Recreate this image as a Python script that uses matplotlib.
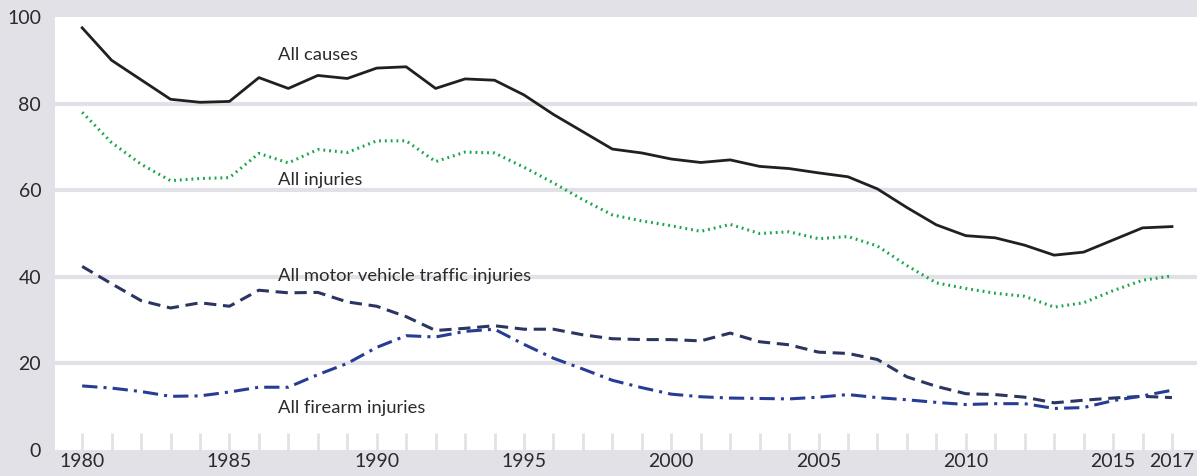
import matplotlib
matplotlib.use("Agg")
import matplotlib.pyplot as plt
from matplotlib.ticker import FixedLocator

years = list(range(1980, 2018))

all_causes = [97.5, 90.0, 85.5, 81.0, 80.3, 80.5, 86.0, 83.5, 86.5, 85.8,
              88.2, 88.5, 83.5, 85.7, 85.4, 82.0, 77.5, 73.5, 69.5, 68.6,
              67.2, 66.4, 67.0, 65.5, 65.0, 64.0, 63.1, 60.3, 56.0, 52.0,
              49.5, 49.0, 47.3, 45.0, 45.7, 48.5, 51.3, 51.6]

all_injuries = [78.0, 71.0, 66.0, 62.2, 62.7, 62.9, 68.5, 66.3, 69.4, 68.7,
                71.4, 71.4, 66.6, 68.8, 68.6, 65.3, 61.7, 57.8, 54.3, 52.9,
                51.8, 50.5, 52.1, 50.0, 50.4, 48.8, 49.3, 47.1, 42.6, 38.6,
                37.3, 36.2, 35.5, 33.0, 34.0, 36.8, 39.2, 40.2]

motor_vehicle = [42.4, 38.4, 34.5, 32.8, 34.0, 33.2, 36.9, 36.3, 36.4, 34.2,
                 33.2, 30.8, 27.6, 28.1, 28.7, 27.9, 27.9, 26.6, 25.7, 25.5,
                 25.5, 25.2, 27.0, 25.0, 24.3, 22.6, 22.3, 20.9, 16.9, 14.7,
                 13.0, 12.8, 12.2, 10.9, 11.5, 12.0, 12.4, 12.1]

firearm = [14.8, 14.3, 13.5, 12.4, 12.5, 13.4, 14.5, 14.5, 17.4, 20.0,
           23.7, 26.4, 26.1, 27.4, 27.9, 24.4, 21.2, 18.7, 16.1, 14.4,
           12.9, 12.3, 12.0, 11.9, 11.8, 12.2, 12.8, 12.1, 11.6, 11.0,
           10.5, 10.7, 10.7, 9.6, 9.8, 11.4, 12.5, 13.8]

series_labels = ["All causes", "All injuries",
                 "All motor vehicle traffic injuries", "All firearm injuries"]
label_pos = [(1986.65, 91.2), (1986.65, 62.3), (1986.65, 40.3), (1986.65, 9.8)]

x_tick_labels = [1980, 1985, 1990, 1995, 2000, 2005, 2010, 2015, 2017]
y_ticks = [0, 20, 40, 60, 80, 100]

BG = "#e1e1e7"
TXT = "#2a2a2a"
plt.rcParams['font.family'] = ['Lato', 'DejaVu Sans']

fig = plt.figure(figsize=(11.97, 4.76), dpi=100, facecolor=BG)
ax = fig.add_axes([0.046, 0.0546, 0.954, 0.9097])
ax.set_facecolor("white")

ax.set_xlim(1979.08, 2017.85)
ax.set_ylim(0, 100)

for y in y_ticks[1:-1]:
    ax.axhline(y, color=BG, lw=3, zorder=1)

ax.plot(years, all_causes, color="#231f20", lw=2.0, zorder=3)
ax.plot(years, all_injuries, color="#1aa54b", lw=2.2, linestyle=(0, (0.6, 1.3)), zorder=3)
ax.plot(years, motor_vehicle, color="#2b3561", lw=2.2, linestyle=(0, (4, 2.2)), zorder=3)
ax.plot(years, firearm, color="#263c95", lw=2.2, linestyle=(0, (5, 2, 1, 2)), zorder=3)

for txt, (x, y) in zip(series_labels, label_pos):
    ax.text(x, y, txt, fontsize=13.2, color=TXT,
            va="center", ha="left", zorder=4)

for s in ax.spines.values():
    s.set_visible(False)

ax.xaxis.set_major_locator(FixedLocator(x_tick_labels))
ax.set_xticklabels([str(v) for v in x_tick_labels])
ax.xaxis.set_minor_locator(FixedLocator(years))
ax.tick_params(axis="x", which="both", direction="in", length=12, width=2,
               color=BG, labelsize=14, labelcolor=TXT, pad=2)
ax.set_yticks(y_ticks)
ax.tick_params(axis="y", length=0, labelsize=14, labelcolor=TXT, pad=10)

fig.savefig("out.png", dpi=100, facecolor=BG)
